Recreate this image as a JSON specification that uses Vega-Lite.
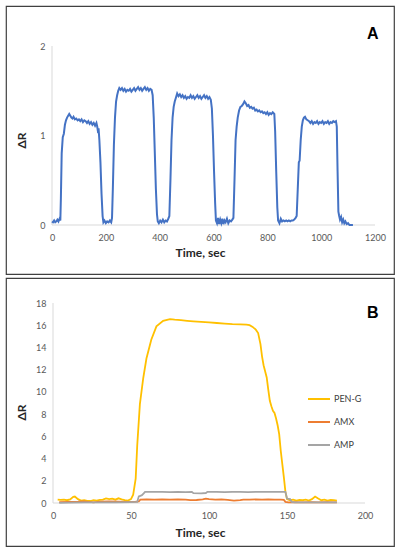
{
  "$schema": "https://vega.github.io/schema/vega-lite/v6.json",
  "padding": {"left": 5, "top": 5, "right": 0, "bottom": 0},
  "background": "white",
  "spacing": 2,
  "config": {
    "view": {"stroke": "#404040", "strokeWidth": 1.2},
    "axis": {"domain": false, "ticks": false, "tickSize": 0, "grid": false, "labelFont": "Lato", "labelFontSize": 9, "labelColor": "#595959", "titleFont": "Lato", "titleFontSize": 12, "titleFontWeight": "bold", "titleColor": "#262626", "labelFlush": false, "labelOverlap": false},
    "axisX": {"labelPadding": 8},
    "axisY": {"labelPadding": 7}
  },
  "datasets": {
    "a": [
      {"t":0,"dr":0.04},{"t":4,"dr":0.03},{"t":8,"dr":0.05},{"t":12,"dr":0.03},{"t":16,"dr":0.04},{"t":20,"dr":0.06},{"t":24,"dr":0.04},{"t":28,"dr":0.07},{"t":31,"dr":0.05},{"t":33,"dr":0.3},{"t":36,"dr":0.8},{"t":40,"dr":0.98},{"t":44,"dr":1.02},{"t":48,"dr":1.12},{"t":52,"dr":1.17},{"t":56,"dr":1.2},{"t":60,"dr":1.22},{"t":64,"dr":1.24},{"t":68,"dr":1.22},{"t":72,"dr":1.2},{"t":76,"dr":1.19},{"t":80,"dr":1.21},{"t":85,"dr":1.18},{"t":90,"dr":1.19},{"t":95,"dr":1.17},{"t":100,"dr":1.18},{"t":105,"dr":1.16},{"t":110,"dr":1.18},{"t":115,"dr":1.15},{"t":120,"dr":1.17},{"t":125,"dr":1.16},{"t":130,"dr":1.14},{"t":135,"dr":1.16},{"t":140,"dr":1.13},{"t":145,"dr":1.15},{"t":150,"dr":1.12},{"t":155,"dr":1.14},{"t":160,"dr":1.11},{"t":165,"dr":1.14},{"t":168,"dr":1.1},{"t":170,"dr":1.06},{"t":173,"dr":1.08},{"t":176,"dr":0.95},{"t":180,"dr":0.7},{"t":184,"dr":0.35},{"t":188,"dr":0.1},{"t":191,"dr":0.03},{"t":195,"dr":0.05},{"t":200,"dr":0.02},{"t":205,"dr":0.04},{"t":210,"dr":0.03},{"t":215,"dr":0.05},{"t":220,"dr":0.03},{"t":223,"dr":0.08},{"t":226,"dr":0.4},{"t":230,"dr":0.9},{"t":234,"dr":1.2},{"t":238,"dr":1.38},{"t":242,"dr":1.45},{"t":246,"dr":1.5},{"t":250,"dr":1.53},{"t":255,"dr":1.51},{"t":260,"dr":1.53},{"t":265,"dr":1.5},{"t":270,"dr":1.52},{"t":275,"dr":1.49},{"t":280,"dr":1.51},{"t":285,"dr":1.5},{"t":290,"dr":1.52},{"t":295,"dr":1.49},{"t":300,"dr":1.51},{"t":305,"dr":1.53},{"t":310,"dr":1.5},{"t":315,"dr":1.52},{"t":320,"dr":1.54},{"t":325,"dr":1.51},{"t":330,"dr":1.53},{"t":335,"dr":1.5},{"t":340,"dr":1.52},{"t":345,"dr":1.54},{"t":350,"dr":1.51},{"t":355,"dr":1.53},{"t":360,"dr":1.5},{"t":365,"dr":1.52},{"t":370,"dr":1.51},{"t":374,"dr":1.45},{"t":378,"dr":1.2},{"t":382,"dr":0.8},{"t":386,"dr":0.4},{"t":390,"dr":0.12},{"t":393,"dr":0.04},{"t":397,"dr":0.02},{"t":402,"dr":0.05},{"t":407,"dr":0.03},{"t":412,"dr":0.06},{"t":417,"dr":0.03},{"t":422,"dr":0.05},{"t":427,"dr":0.04},{"t":432,"dr":0.07},{"t":436,"dr":0.1},{"t":440,"dr":0.5},{"t":444,"dr":0.95},{"t":448,"dr":1.2},{"t":452,"dr":1.32},{"t":456,"dr":1.38},{"t":460,"dr":1.42},{"t":465,"dr":1.47},{"t":470,"dr":1.44},{"t":475,"dr":1.46},{"t":480,"dr":1.43},{"t":485,"dr":1.45},{"t":490,"dr":1.42},{"t":495,"dr":1.44},{"t":500,"dr":1.41},{"t":505,"dr":1.43},{"t":510,"dr":1.42},{"t":515,"dr":1.45},{"t":520,"dr":1.42},{"t":525,"dr":1.44},{"t":530,"dr":1.41},{"t":535,"dr":1.43},{"t":540,"dr":1.45},{"t":545,"dr":1.42},{"t":550,"dr":1.44},{"t":555,"dr":1.41},{"t":560,"dr":1.43},{"t":565,"dr":1.45},{"t":570,"dr":1.42},{"t":575,"dr":1.44},{"t":580,"dr":1.41},{"t":585,"dr":1.43},{"t":590,"dr":1.4},{"t":594,"dr":1.3},{"t":598,"dr":1.0},{"t":602,"dr":0.6},{"t":606,"dr":0.25},{"t":609,"dr":0.05},{"t":613,"dr":0.02},{"t":617,"dr":0.08},{"t":621,"dr":0.01},{"t":625,"dr":0.06},{"t":629,"dr":0.02},{"t":633,"dr":0.07},{"t":637,"dr":0.01},{"t":641,"dr":0.05},{"t":645,"dr":0.03},{"t":650,"dr":0.07},{"t":655,"dr":0.02},{"t":660,"dr":0.05},{"t":665,"dr":0.04},{"t":670,"dr":0.06},{"t":674,"dr":0.08},{"t":678,"dr":0.5},{"t":682,"dr":0.95},{"t":686,"dr":1.1},{"t":690,"dr":1.2},{"t":695,"dr":1.28},{"t":700,"dr":1.32},{"t":705,"dr":1.33},{"t":710,"dr":1.35},{"t":715,"dr":1.38},{"t":720,"dr":1.36},{"t":725,"dr":1.33},{"t":730,"dr":1.34},{"t":735,"dr":1.31},{"t":740,"dr":1.32},{"t":745,"dr":1.3},{"t":750,"dr":1.31},{"t":755,"dr":1.28},{"t":760,"dr":1.29},{"t":765,"dr":1.27},{"t":770,"dr":1.28},{"t":775,"dr":1.26},{"t":780,"dr":1.27},{"t":785,"dr":1.25},{"t":790,"dr":1.26},{"t":795,"dr":1.24},{"t":800,"dr":1.26},{"t":805,"dr":1.23},{"t":810,"dr":1.25},{"t":815,"dr":1.24},{"t":820,"dr":1.26},{"t":826,"dr":1.24},{"t":829,"dr":1.05},{"t":833,"dr":0.6},{"t":837,"dr":0.2},{"t":840,"dr":0.05},{"t":845,"dr":0.02},{"t":850,"dr":0.07},{"t":855,"dr":0.04},{"t":860,"dr":0.05},{"t":865,"dr":0.04},{"t":870,"dr":0.05},{"t":875,"dr":0.04},{"t":880,"dr":0.05},{"t":885,"dr":0.04},{"t":890,"dr":0.05},{"t":895,"dr":0.05},{"t":900,"dr":0.06},{"t":905,"dr":0.08},{"t":909,"dr":0.1},{"t":913,"dr":0.4},{"t":917,"dr":0.7},{"t":920,"dr":0.72},{"t":924,"dr":0.95},{"t":928,"dr":1.1},{"t":932,"dr":1.17},{"t":936,"dr":1.2},{"t":940,"dr":1.21},{"t":945,"dr":1.18},{"t":950,"dr":1.17},{"t":955,"dr":1.16},{"t":960,"dr":1.14},{"t":965,"dr":1.16},{"t":970,"dr":1.13},{"t":975,"dr":1.15},{"t":980,"dr":1.14},{"t":985,"dr":1.16},{"t":990,"dr":1.13},{"t":995,"dr":1.15},{"t":1000,"dr":1.14},{"t":1005,"dr":1.16},{"t":1010,"dr":1.13},{"t":1015,"dr":1.15},{"t":1020,"dr":1.14},{"t":1025,"dr":1.16},{"t":1030,"dr":1.13},{"t":1035,"dr":1.15},{"t":1040,"dr":1.14},{"t":1045,"dr":1.16},{"t":1050,"dr":1.15},{"t":1055,"dr":1.16},{"t":1058,"dr":1.1},{"t":1061,"dr":0.6},{"t":1064,"dr":0.15},{"t":1067,"dr":0.1},{"t":1070,"dr":0.06},{"t":1074,"dr":0.09},{"t":1078,"dr":0.03},{"t":1082,"dr":0.06},{"t":1086,"dr":0.02},{"t":1090,"dr":0.04},{"t":1095,"dr":0.01},{"t":1100,"dr":0.02},{"t":1105,"dr":0.0},{"t":1110,"dr":0.0},{"t":1118,"dr":0.0}
    ],
    "b": [
      {"t":3,"s":"PEN-G","v":0.3},{"t":5,"s":"PEN-G","v":0.28},{"t":7,"s":"PEN-G","v":0.3},{"t":9,"s":"PEN-G","v":0.25},{"t":11,"s":"PEN-G","v":0.32},{"t":13,"s":"PEN-G","v":0.55},{"t":14,"s":"PEN-G","v":0.58},{"t":16,"s":"PEN-G","v":0.35},{"t":18,"s":"PEN-G","v":0.22},{"t":20,"s":"PEN-G","v":0.25},{"t":22,"s":"PEN-G","v":0.2},{"t":24,"s":"PEN-G","v":0.18},{"t":26,"s":"PEN-G","v":0.25},{"t":28,"s":"PEN-G","v":0.22},{"t":30,"s":"PEN-G","v":0.28},{"t":32,"s":"PEN-G","v":0.3},{"t":34,"s":"PEN-G","v":0.42},{"t":36,"s":"PEN-G","v":0.35},{"t":38,"s":"PEN-G","v":0.4},{"t":40,"s":"PEN-G","v":0.3},{"t":42,"s":"PEN-G","v":0.42},{"t":44,"s":"PEN-G","v":0.33},{"t":46,"s":"PEN-G","v":0.25},{"t":48,"s":"PEN-G","v":0.22},{"t":50,"s":"PEN-G","v":0.35},{"t":51.4,"s":"PEN-G","v":0.75},{"t":53,"s":"PEN-G","v":2.2},{"t":54,"s":"PEN-G","v":5.2},{"t":55.7,"s":"PEN-G","v":8.9},{"t":57.8,"s":"PEN-G","v":11.2},{"t":59.9,"s":"PEN-G","v":13.0},{"t":63,"s":"PEN-G","v":14.7},{"t":66.3,"s":"PEN-G","v":15.9},{"t":70.6,"s":"PEN-G","v":16.4},{"t":75,"s":"PEN-G","v":16.55},{"t":78,"s":"PEN-G","v":16.5},{"t":82,"s":"PEN-G","v":16.45},{"t":86,"s":"PEN-G","v":16.4},{"t":90,"s":"PEN-G","v":16.35},{"t":95,"s":"PEN-G","v":16.3},{"t":100,"s":"PEN-G","v":16.25},{"t":105,"s":"PEN-G","v":16.2},{"t":110,"s":"PEN-G","v":16.15},{"t":115,"s":"PEN-G","v":16.1},{"t":120,"s":"PEN-G","v":16.08},{"t":124,"s":"PEN-G","v":16.05},{"t":126,"s":"PEN-G","v":16.0},{"t":128,"s":"PEN-G","v":15.85},{"t":130,"s":"PEN-G","v":15.6},{"t":131.5,"s":"PEN-G","v":15.3},{"t":133,"s":"PEN-G","v":14.3},{"t":134,"s":"PEN-G","v":13.2},{"t":135,"s":"PEN-G","v":12.4},{"t":137,"s":"PEN-G","v":11.3},{"t":138,"s":"PEN-G","v":10.2},{"t":139,"s":"PEN-G","v":9.2},{"t":140,"s":"PEN-G","v":8.7},{"t":141,"s":"PEN-G","v":8.3},{"t":142,"s":"PEN-G","v":8.1},{"t":143,"s":"PEN-G","v":7.6},{"t":144,"s":"PEN-G","v":7.0},{"t":145,"s":"PEN-G","v":6.2},{"t":146,"s":"PEN-G","v":4.7},{"t":147,"s":"PEN-G","v":3.5},{"t":148,"s":"PEN-G","v":2.3},{"t":149,"s":"PEN-G","v":1.0},{"t":150,"s":"PEN-G","v":0.35},{"t":152,"s":"PEN-G","v":0.25},{"t":154,"s":"PEN-G","v":0.3},{"t":156,"s":"PEN-G","v":0.22},{"t":158,"s":"PEN-G","v":0.28},{"t":160,"s":"PEN-G","v":0.25},{"t":162,"s":"PEN-G","v":0.3},{"t":164,"s":"PEN-G","v":0.22},{"t":166,"s":"PEN-G","v":0.35},{"t":168,"s":"PEN-G","v":0.58},{"t":170,"s":"PEN-G","v":0.4},{"t":172,"s":"PEN-G","v":0.25},{"t":174,"s":"PEN-G","v":0.3},{"t":176,"s":"PEN-G","v":0.22},{"t":178,"s":"PEN-G","v":0.28},{"t":180,"s":"PEN-G","v":0.25},{"t":182,"s":"PEN-G","v":0.22},
      {"t":4,"s":"AMX","v":0.08},{"t":10,"s":"AMX","v":0.1},{"t":16,"s":"AMX","v":0.12},{"t":20,"s":"AMX","v":0.15},{"t":26,"s":"AMX","v":0.05},{"t":30,"s":"AMX","v":0.12},{"t":36,"s":"AMX","v":0.15},{"t":42,"s":"AMX","v":0.12},{"t":48,"s":"AMX","v":0.1},{"t":53,"s":"AMX","v":0.12},{"t":55,"s":"AMX","v":0.15},{"t":56,"s":"AMX","v":0.3},{"t":60,"s":"AMX","v":0.32},{"t":65,"s":"AMX","v":0.3},{"t":70,"s":"AMX","v":0.33},{"t":75,"s":"AMX","v":0.3},{"t":80,"s":"AMX","v":0.32},{"t":85,"s":"AMX","v":0.3},{"t":88,"s":"AMX","v":0.25},{"t":92,"s":"AMX","v":0.27},{"t":96,"s":"AMX","v":0.32},{"t":98,"s":"AMX","v":0.4},{"t":100,"s":"AMX","v":0.35},{"t":104,"s":"AMX","v":0.3},{"t":108,"s":"AMX","v":0.32},{"t":112,"s":"AMX","v":0.28},{"t":116,"s":"AMX","v":0.22},{"t":120,"s":"AMX","v":0.25},{"t":122,"s":"AMX","v":0.3},{"t":126,"s":"AMX","v":0.3},{"t":130,"s":"AMX","v":0.32},{"t":134,"s":"AMX","v":0.3},{"t":138,"s":"AMX","v":0.33},{"t":142,"s":"AMX","v":0.3},{"t":146,"s":"AMX","v":0.3},{"t":148,"s":"AMX","v":0.28},{"t":149,"s":"AMX","v":0.1},{"t":151,"s":"AMX","v":0.05},{"t":155,"s":"AMX","v":0.08},{"t":160,"s":"AMX","v":0.05},{"t":165,"s":"AMX","v":0.07},{"t":170,"s":"AMX","v":0.06},{"t":175,"s":"AMX","v":0.08},{"t":182,"s":"AMX","v":0.06},
      {"t":4,"s":"AMP","v":0.02},{"t":10,"s":"AMP","v":0.03},{"t":20,"s":"AMP","v":0.05},{"t":30,"s":"AMP","v":0.05},{"t":40,"s":"AMP","v":0.06},{"t":50,"s":"AMP","v":0.08},{"t":54,"s":"AMP","v":0.1},{"t":55,"s":"AMP","v":0.6},{"t":56,"s":"AMP","v":0.65},{"t":57,"s":"AMP","v":0.7},{"t":58,"s":"AMP","v":0.85},{"t":59,"s":"AMP","v":1.0},{"t":65,"s":"AMP","v":1.0},{"t":70,"s":"AMP","v":1.0},{"t":75,"s":"AMP","v":0.98},{"t":80,"s":"AMP","v":1.0},{"t":85,"s":"AMP","v":0.98},{"t":89,"s":"AMP","v":1.0},{"t":90,"s":"AMP","v":0.88},{"t":95,"s":"AMP","v":0.87},{"t":98,"s":"AMP","v":0.9},{"t":99,"s":"AMP","v":1.0},{"t":105,"s":"AMP","v":1.0},{"t":110,"s":"AMP","v":0.98},{"t":115,"s":"AMP","v":1.0},{"t":120,"s":"AMP","v":1.0},{"t":125,"s":"AMP","v":0.98},{"t":130,"s":"AMP","v":1.0},{"t":135,"s":"AMP","v":1.0},{"t":140,"s":"AMP","v":1.0},{"t":145,"s":"AMP","v":1.0},{"t":149,"s":"AMP","v":1.0},{"t":150,"s":"AMP","v":0.4},{"t":152,"s":"AMP","v":0.35},{"t":153,"s":"AMP","v":0.1},{"t":155,"s":"AMP","v":0.05},{"t":160,"s":"AMP","v":0.05},{"t":170,"s":"AMP","v":0.05},{"t":182,"s":"AMP","v":0.05}
    ]
  },
  "vconcat": [
    {
      "width": 388,
      "height": 268,
      "layer": [
        {
          "data": {"values": [{}]},
          "mark": {"type": "rule", "color": "#d9d9d9", "strokeWidth": 1},
          "encoding": {"x": {"datum": 0, "type": "quantitative"}, "y": {"datum": 0, "type": "quantitative"}, "y2": {"datum": 2}}
        },
        {
          "data": {"values": [{}]},
          "mark": {"type": "rule", "color": "#d9d9d9", "strokeWidth": 1},
          "encoding": {"x": {"datum": 0, "type": "quantitative"}, "x2": {"datum": 1200}, "y": {"datum": 0, "type": "quantitative"}}
        },
        {
          "data": {"name": "a"},
          "mark": {"type": "line", "color": "#4472C4", "strokeWidth": 2},
          "encoding": {
            "x": {"field": "t", "type": "quantitative", "scale": {"domain": [-170.9, 1270.6], "nice": false, "zero": false}, "axis": {"title": "Time, sec", "values": [0, 200, 400, 600, 800, 1000, 1200], "tickCount": 50, "format": "d", "labelOverlap": false, "offset": -49, "titlePadding": 5}},
            "y": {"field": "dr", "type": "quantitative", "scale": {"domain": [-0.5475, 2.447], "nice": false, "zero": false}, "axis": {"title": "ΔR", "values": [0, 1, 2], "tickCount": 50, "format": "d", "labelOverlap": false, "offset": -46, "titlePadding": 11}}
          }
        },
        {
          "data": {"values": [{}]},
          "mark": {"type": "text", "text": "A", "font": "Liberation Sans", "fontWeight": "bold", "fontSize": 16, "color": "#000000", "align": "center", "baseline": "middle"},
          "encoding": {"x": {"datum": 1192, "type": "quantitative"}, "y": {"datum": 2.134, "type": "quantitative"}}
        }
      ]
    },
    {
      "width": 388,
      "height": 268,
      "layer": [
        {
          "data": {"values": [{}]},
          "mark": {"type": "rule", "color": "#d9d9d9", "strokeWidth": 1},
          "encoding": {"x": {"datum": 0, "type": "quantitative"}, "y": {"datum": 0, "type": "quantitative"}, "y2": {"datum": 18}}
        },
        {
          "data": {"values": [{}]},
          "mark": {"type": "rule", "color": "#d9d9d9", "strokeWidth": 1},
          "encoding": {"x": {"datum": 0, "type": "quantitative"}, "x2": {"datum": 200}, "y": {"datum": 0, "type": "quantitative"}}
        },
        {
          "data": {"name": "b"},
          "mark": {"type": "line", "strokeWidth": 1.8},
          "encoding": {
            "x": {"field": "t", "type": "quantitative", "scale": {"domain": [-30.13, 218.6], "nice": false, "zero": false}, "axis": {"title": "Time, sec", "values": [0, 50, 100, 150, 200], "tickCount": 50, "format": "d", "labelOverlap": false, "offset": -43, "titlePadding": 7}},
            "y": {"field": "v", "type": "quantitative", "scale": {"domain": [-3.87, 20.25], "nice": false, "zero": false}, "axis": {"title": "ΔR", "values": [0, 2, 4, 6, 8, 10, 12, 14, 16, 18], "tickCount": 50, "format": "d", "labelOverlap": false, "offset": -47, "titlePadding": 7}},
            "color": {"field": "s", "type": "nominal", "scale": {"domain": ["PEN-G", "AMX", "AMP"], "range": ["#FFC000", "#ED7D31", "#A5A5A5"]}, "legend": {"title": null, "orient": "none", "legendX": 301, "legendY": 381, "symbolType": "stroke", "symbolSize": 484, "symbolStrokeWidth": 2, "labelFont": "Lato", "labelFontSize": 9, "labelColor": "#404040", "rowPadding": 6, "labelOffset": 3}}
          }
        },
        {
          "data": {"values": [{}]},
          "mark": {"type": "text", "text": "B", "font": "Liberation Sans", "fontWeight": "bold", "fontSize": 16, "color": "#000000", "align": "center", "baseline": "middle"},
          "encoding": {"x": {"datum": 205, "type": "quantitative"}, "y": {"datum": 17.1, "type": "quantitative"}}
        }
      ]
    }
  ]
}
